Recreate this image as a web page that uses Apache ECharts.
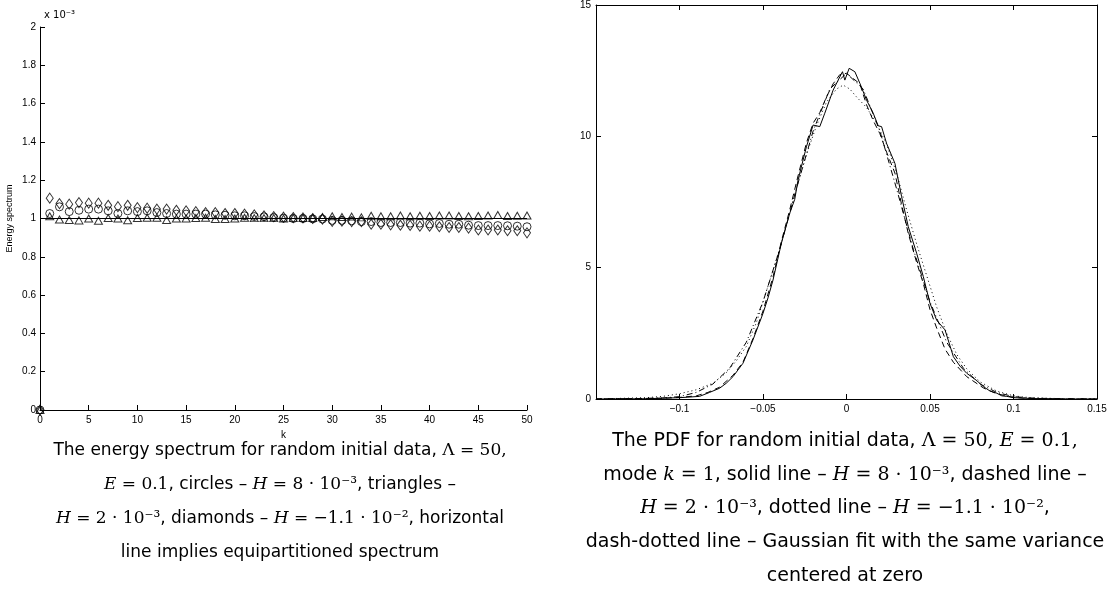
<!DOCTYPE html>
<html><head><meta charset="utf-8">
<script src="https://cdn.jsdelivr.net/npm/echarts@6/dist/echarts.min.js"></script>
<style>html,body{margin:0;padding:0;background:#fff}#c{width:1110px;height:594px}</style>
</head><body><div id="c"></div>
<script>
// ---------- Left panel: energy spectrum (values in units of 1e-3) ----------
const kModes = [0,1,2,3,4,5,6,7,8,9,10,11,12,13,14,15,16,17,18,19,20,21,22,23,24,25,26,27,28,29,30,31,32,33,34,35,36,37,38,39,40,41,42,43,44,45,46,47,48,49,50];
const circlesH8 = [0,1.026,1.061,1.036,1.043,1.049,1.049,1.040,1.026,1.040,1.036,1.040,1.031,1.026,1.023,1.023,1.023,1.023,1.019,1.017,1.014,1.014,1.010,1.009,1.005,1.002,1.000,1.000,0.998,0.997,0.990,0.990,0.988,0.984,0.984,0.979,0.979,0.979,0.976,0.976,0.972,0.974,0.970,0.970,0.965,0.963,0.963,0.963,0.962,0.960,0.957];
const trianglesH2 = [0,1.012,0.995,0.992,0.990,1.000,0.988,1.003,1.000,0.991,1.003,1.004,1.004,0.992,1.000,1.000,1.003,1.004,0.997,0.997,1.000,1.004,1.002,1.002,1.002,1.000,1.002,1.003,1.003,1.008,1.012,1.008,1.010,1.006,1.014,1.012,1.012,1.016,1.012,1.014,1.013,1.016,1.016,1.013,1.012,1.013,1.016,1.018,1.013,1.014,1.016];
const diamondsHm11 = [0,1.106,1.078,1.075,1.083,1.080,1.080,1.069,1.062,1.069,1.057,1.054,1.049,1.049,1.043,1.040,1.036,1.031,1.031,1.026,1.026,1.023,1.019,1.014,1.010,1.007,1.005,1.003,1.000,0.997,0.985,0.986,0.984,0.983,0.970,0.970,0.967,0.965,0.964,0.960,0.960,0.957,0.953,0.953,0.950,0.940,0.940,0.940,0.936,0.936,0.925];
const equipartLevel = [[0,1],[50,1]];

// ---------- Right panel: PDF of mode k=1 ----------
const pdfSolid = [[-0.15,0],[-0.12,0.01],[-0.11,0.03],[-0.1,0.05],[-0.095,0.07],[-0.088,0.1],[-0.082,0.25],[-0.076,0.41],[-0.072,0.6],[-0.068,0.85],[-0.062,1.36],[-0.056,2.25],[-0.05,3.26],[-0.047,3.85],[-0.044,4.53],[-0.039,5.93],[-0.034,7.07],[-0.031,7.6],[-0.029,8.34],[-0.024,9.6],[-0.02,10.43],[-0.018,10.4],[-0.016,10.37],[-0.013,10.88],[-0.008,11.76],[-0.005,12.14],[-0.0024,12.46],[-0.001,12.14],[0.0016,12.59],[0.005,12.46],[0.008,12.02],[0.012,11.38],[0.016,10.88],[0.019,10.4],[0.021,10.37],[0.024,9.73],[0.029,8.97],[0.033,7.7],[0.037,6.56],[0.042,5.55],[0.046,4.66],[0.05,3.64],[0.054,3.0],[0.059,2.63],[0.064,1.61],[0.068,1.25],[0.072,0.98],[0.078,0.7],[0.082,0.47],[0.086,0.3],[0.09,0.22],[0.093,0.12],[0.096,0.1],[0.1,0.05],[0.11,0.02],[0.13,0],[0.15,0]];
const pdfDashed = [[-0.15,0],[-0.11,0.03],[-0.1,0.06],[-0.09,0.12],[-0.083,0.25],[-0.076,0.45],[-0.068,0.9],[-0.062,1.4],[-0.056,2.3],[-0.05,3.35],[-0.044,4.65],[-0.039,6.0],[-0.034,7.2],[-0.029,8.5],[-0.024,9.75],[-0.02,10.5],[-0.016,10.9],[-0.012,11.5],[-0.008,12.0],[-0.004,12.35],[0,12.4],[0.004,12.2],[0.008,12.0],[0.012,11.2],[0.016,10.6],[0.02,10.1],[0.024,9.4],[0.029,8.6],[0.033,7.4],[0.037,6.3],[0.042,5.2],[0.046,4.4],[0.05,3.4],[0.054,2.7],[0.059,1.9],[0.064,1.4],[0.072,0.85],[0.082,0.42],[0.09,0.2],[0.1,0.06],[0.11,0.02],[0.13,0],[0.15,0]];
const pdfDotted = [[-0.15,0],[-0.12,0.05],[-0.11,0.1],[-0.1,0.2],[-0.09,0.35],[-0.08,0.6],[-0.072,1.0],[-0.066,1.45],[-0.06,2.0],[-0.054,2.9],[-0.048,4.1],[-0.042,5.3],[-0.036,6.6],[-0.03,8.0],[-0.024,9.3],[-0.018,10.4],[-0.012,11.3],[-0.006,11.8],[-0.002,11.95],[0.002,11.8],[0.006,11.5],[0.012,11.1],[0.018,10.5],[0.024,9.7],[0.03,8.6],[0.036,7.2],[0.042,5.9],[0.048,4.7],[0.054,3.5],[0.06,2.5],[0.066,1.7],[0.072,1.15],[0.08,0.65],[0.09,0.3],[0.1,0.12],[0.11,0.05],[0.13,0.01],[0.15,0]];
const pdfGaussFit = [[-0.15,0],[-0.12,0.02],[-0.11,0.04],[-0.1,0.09],[-0.09,0.25],[-0.08,0.57],[-0.07,1.17],[-0.06,2.16],[-0.05,3.7],[-0.04,5.7],[-0.03,8.0],[-0.02,10.2],[-0.01,11.8],[0,12.4],[0.01,11.8],[0.02,10.2],[0.03,8.0],[0.04,5.7],[0.05,3.7],[0.06,2.16],[0.07,1.17],[0.08,0.57],[0.09,0.25],[0.1,0.09],[0.11,0.04],[0.12,0.02],[0.15,0]];

// ---------- Captions ----------
const leftCaption = [
  '{s|The energy spectrum for random initial data, }{r|Λ = 50,}',
  '{m|E}{r| = 0.1}{s|, circles – }{m|H}{r| = 8 · 10}{p|⁻³}{s|, triangles –}',
  '{m|H}{r| = 2 · 10}{p|⁻³}{s|, diamonds – }{m|H}{r| = −1.1 · 10}{p|⁻²}{s|, horizontal}',
  '{s|line implies equipartitioned spectrum}'
];
const rightCaption = [
  '{s|The PDF for random initial data, }{r|Λ = 50, }{m|E}{r| = 0.1,}',
  '{s|mode }{m|k}{r| = 1}{s|, solid line – }{m|H}{r| = 8 · 10}{p|⁻³}{s|, dashed line –}',
  '{m|H}{r| = 2 · 10}{p|⁻³}{s|, dotted line – }{m|H}{r| = −1.1 · 10}{p|⁻²}{s|,}',
  '{s|dash-dotted line – Gaussian fit with the same variance}',
  '{s|centered at zero}'
];

const chart = echarts.init(document.getElementById('c'), null, {renderer: 'canvas'});
const AX = '#000';
const lblFont = {color: '#000', fontSize: 10, fontFamily: 'Liberation Sans, Arial, sans-serif'};
const fmtNum = v => {
  const r = Math.round(v * 1000) / 1000;
  return (r < 0 ? '−' : '') + String(Math.abs(r));
};
const makeRich = size => ({
  s: {fontFamily: 'DejaVu Sans, sans-serif', fontSize: size, color: '#000'},
  r: {fontFamily: 'DejaVu Serif, serif', fontSize: size, color: '#000'},
  m: {fontFamily: 'DejaVu Serif, serif', fontStyle: 'italic', fontSize: size, color: '#000'},
  p: {fontFamily: 'DejaVu Serif, serif', fontSize: size, color: '#000'}
});
const richLeft = makeRich(17), richRight = makeRich(19);
const captionGraphics = [];
leftCaption.forEach((t, i) => captionGraphics.push({type: 'text', x: 280, y: 451 + i * 34,
  style: {text: t, rich: richLeft, align: 'center', verticalAlign: 'middle'}}));
rightCaption.forEach((t, i) => captionGraphics.push({type: 'text', x: 845, y: 441 + i * 33.7,
  style: {text: t, rich: richRight, align: 'center', verticalAlign: 'middle'}}));
captionGraphics.push({type: 'text', x: 44, y: 15, style: {text: 'x 10⁻³', fontSize: 10, fontFamily: 'DejaVu Sans, sans-serif', fill: '#000', verticalAlign: 'middle'}});

const markerStyle = {color: 'rgba(0,0,0,0)', borderColor: '#000', borderWidth: 1};

chart.setOption({
  animation: false,
  backgroundColor: '#fff',
  grid: [
    {left: 40, top: 27, width: 487, height: 383},
    {left: 596, top: 5, width: 501, height: 394}
  ],
  xAxis: [
    {gridIndex: 0, type: 'value', min: 0, max: 50, interval: 5, name: 'k', nameLocation: 'middle', nameGap: 19,
     nameTextStyle: {fontSize: 10, color: '#000', fontFamily: 'Liberation Sans, Arial, sans-serif'},
     axisLine: {onZero: false, lineStyle: {color: AX}}, axisTick: {inside: true, length: 5, lineStyle: {color: AX}},
     axisLabel: Object.assign({margin: 5}, lblFont), splitLine: {show: false}},
    {gridIndex: 1, type: 'value', min: -0.15, max: 0.15, interval: 0.05,
     axisLine: {onZero: false, lineStyle: {color: AX}}, axisTick: {inside: true, length: 5, lineStyle: {color: AX}},
     axisLabel: Object.assign({margin: 5, formatter: v => Math.abs(v + 0.15) < 1e-9 ? '' : fmtNum(v)}, lblFont), splitLine: {show: false}},
    {gridIndex: 1, type: 'value', position: 'top', min: -0.15, max: 0.15, interval: 0.05,
     axisLine: {onZero: false, lineStyle: {color: AX}}, axisTick: {inside: true, length: 5, lineStyle: {color: AX}},
     axisLabel: {show: false}, splitLine: {show: false}}
  ],
  yAxis: [
    {gridIndex: 0, type: 'value', min: 0, max: 2, interval: 0.2, name: 'Energy spectrum', nameLocation: 'middle', nameGap: 26, nameRotate: 90,
     nameTextStyle: {fontSize: 9, color: '#000', fontFamily: 'Liberation Sans, Arial, sans-serif'},
     axisLine: {onZero: false, lineStyle: {color: AX}}, axisTick: {inside: true, length: 5, lineStyle: {color: AX}},
     axisLabel: Object.assign({margin: 4, formatter: v => fmtNum(v)}, lblFont), splitLine: {show: false}},
    {gridIndex: 1, type: 'value', min: 0, max: 15, interval: 5,
     axisLine: {onZero: false, lineStyle: {color: AX}}, axisTick: {inside: true, length: 5, lineStyle: {color: AX}},
     axisLabel: Object.assign({margin: 5}, lblFont), splitLine: {show: false}},
    {gridIndex: 1, type: 'value', position: 'right', min: 0, max: 15, interval: 5,
     axisLine: {onZero: false, lineStyle: {color: AX}}, axisTick: {inside: true, length: 5, lineStyle: {color: AX}},
     axisLabel: {show: false}, splitLine: {show: false}}
  ],
  series: [
    {type: 'line', xAxisIndex: 0, yAxisIndex: 0, data: equipartLevel, symbol: 'none', lineStyle: {color: '#000', width: 1}, z: 1},
    {type: 'scatter', xAxisIndex: 0, yAxisIndex: 0, data: kModes.map((k, i) => [k, circlesH8[i]]), symbol: 'circle', symbolSize: 8, itemStyle: markerStyle},
    {type: 'scatter', xAxisIndex: 0, yAxisIndex: 0, data: kModes.map((k, i) => [k, trianglesH2[i]]), symbol: 'triangle', symbolSize: [8, 7], itemStyle: markerStyle},
    {type: 'scatter', xAxisIndex: 0, yAxisIndex: 0, data: kModes.map((k, i) => [k, diamondsHm11[i]]), symbol: 'diamond', symbolSize: [7, 10], itemStyle: markerStyle},
    {type: 'line', xAxisIndex: 1, yAxisIndex: 1, data: pdfSolid, symbol: 'none', lineStyle: {color: '#000', width: 1}},
    {type: 'line', xAxisIndex: 1, yAxisIndex: 1, data: pdfDashed, symbol: 'none', lineStyle: {color: '#000', width: 1, type: [6, 4]}},
    {type: 'line', xAxisIndex: 1, yAxisIndex: 1, data: pdfDotted, symbol: 'none', lineStyle: {color: '#000', width: 1, type: [1, 3]}},
    {type: 'line', xAxisIndex: 1, yAxisIndex: 1, data: pdfGaussFit, symbol: 'none', lineStyle: {color: '#000', width: 1, type: [6, 3, 1, 3]}}
  ],
  graphic: captionGraphics
});
</script></body></html>
